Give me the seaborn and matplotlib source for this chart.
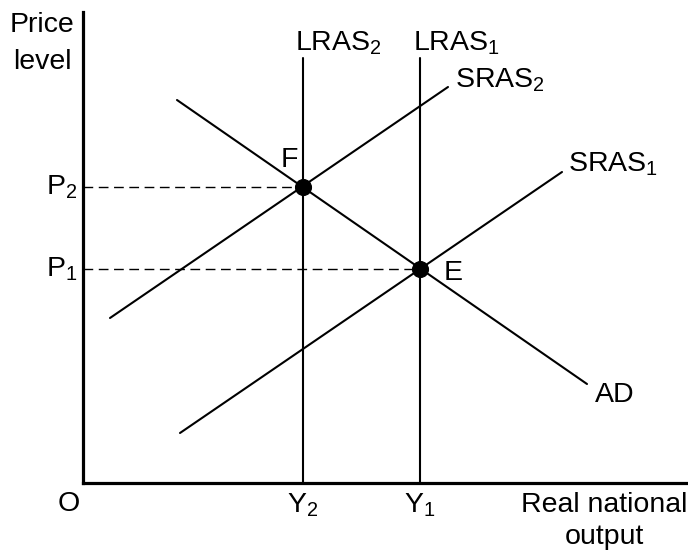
import matplotlib
matplotlib.use("Agg")
import matplotlib.pyplot as plt
import seaborn as sns
import pandas as pd

# ---- data (diagram units: 0 at the axes origin) ----
lras_x = {"LRAS$_\\mathrm{2}$": 220, "LRAS$_\\mathrm{1}$": 337}
lras_top = 425
ad_x = [94, 504]
ad_y = [383, 99]
sras2_x = [27, 365]
sras2_y = [165, 396]
sras1_x = [97, 479]
sras1_y = [50, 311]
eq_names = ["F", "E"]
eq_x = [220, 337]
eq_y = [296, 214]
price_labels = ["P$_\\mathrm{2}$", "P$_\\mathrm{1}$"]
output_labels = ["Y$_\\mathrm{2}$", "Y$_\\mathrm{1}$"]

sns.set_theme(style="white")
plt.rcParams["font.family"] = ["Liberation Sans", "DejaVu Sans"]
plt.rcParams["mathtext.fontset"] = "custom"
plt.rcParams["mathtext.rm"] = "Liberation Sans"
plt.rcParams["mathtext.it"] = "Liberation Sans"

fig = plt.figure(figsize=(6.88, 5.51), dpi=100)
W, H = 688, 551
ax = fig.add_axes([83 / W, (H - 483) / H, (688 - 83) / W, (483 - 12) / H])
ax.set_xlim(0, 605)
ax.set_ylim(0, 471)

lw = 1.5
fs = 20.5
# LRAS vertical lines
for name, xv in lras_x.items():
    df = pd.DataFrame({"x": [xv, xv], "y": [0, lras_top]})
    sns.lineplot(data=df, x="x", y="y", estimator=None, sort=False, color="black", lw=lw, ax=ax)

for xs, ys in [(ad_x, ad_y), (sras2_x, sras2_y), (sras1_x, sras1_y)]:
    df = pd.DataFrame({"x": xs, "y": ys})
    sns.lineplot(data=df, x="x", y="y", estimator=None, sort=False, color="black", lw=lw, ax=ax)

# dashed price guides
for xv, yv in zip(eq_x, eq_y):
    df = pd.DataFrame({"x": [0, xv], "y": [yv, yv]})
    sns.lineplot(data=df, x="x", y="y", estimator=None, sort=False, color="black",
                 lw=1.0, ax=ax, linestyle=(0, (7, 4)))

sns.scatterplot(x=eq_x, y=eq_y, color="black", s=130, ax=ax, zorder=5, edgecolor="black")

# axes styling
for side in ["top", "right"]:
    ax.spines[side].set_visible(False)
for side in ["left", "bottom"]:
    ax.spines[side].set_linewidth(2.3)
    ax.spines[side].set_color("black")
ax.set_xticks([])
ax.set_yticks([])
ax.set_xlabel("")
ax.set_ylabel("")

kw = dict(fontsize=fs, color="black", clip_on=False)
# curve labels
names = list(lras_x.keys())
ax.text(lras_x[names[0]] - 8, 440, names[0], ha="left", va="center", **kw)
ax.text(lras_x[names[1]] - 7, 440, names[1], ha="left", va="center", **kw)
ax.text(sras2_x[1] + 7, sras2_y[1] + 7, "SRAS$_\\mathrm{2}$", ha="left", va="center", **kw)
ax.text(sras1_x[1] + 6, sras1_y[1] + 8, "SRAS$_\\mathrm{1}$", ha="left", va="center", **kw)
ax.text(ad_x[1] + 8, ad_y[1] - 11, "AD", ha="left", va="center", **kw)
ax.text(eq_x[0] - 14, eq_y[0] + 27, eq_names[0], ha="center", va="center", **kw)
ax.text(eq_x[1] + 33, eq_y[1] - 4, eq_names[1], ha="center", va="center", **kw)

# axis labels
ax.text(-41, 458, "Price", ha="center", va="center", **kw)
ax.text(-41, 421, "level", ha="center", va="center", **kw)
for lab, yv in zip(price_labels, eq_y):
    ax.text(-6, yv, lab, ha="right", va="center", **kw)
ax.text(-14, -21, "O", ha="center", va="center", **kw)
for lab, xv in zip(output_labels, eq_x):
    ax.text(xv, -22, lab, ha="center", va="center", **kw)
ax.text(521, -22, "Real national", ha="center", va="center", **kw)
ax.text(521, -54, "output", ha="center", va="center", **kw)

fig.savefig("out.png", dpi=100, facecolor="white")
